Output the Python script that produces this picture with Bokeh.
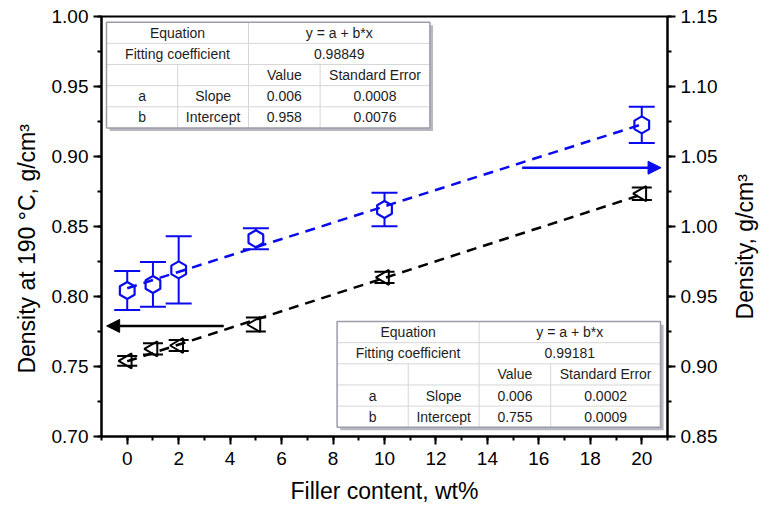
import numpy as np
from bokeh.plotting import figure
from bokeh.layouts import row
from bokeh.models import (ColumnDataSource, Range1d, LinearAxis, SingleIntervalTicker,
                          NumeralTickFormatter, Whisker, TeeHead, Arrow, NormalHead, Label)
from bokeh.core.properties import value
from bokeh.embed import file_html
from bokeh.resources import INLINE

# ---------------- data ----------------
filler = [0, 1, 2, 5, 10, 20]                                   # wt%
density_190 = [0.754, 0.7626, 0.765, 0.780, 0.8136, 0.8734]     # left axis (black)
density_190_err = [0.0035, 0.004, 0.004, 0.005, 0.004, 0.0045]
density_rt = [0.9543, 0.9586, 0.969, 0.9912, 1.0121, 1.0726]    # right axis (blue)
density_rt_err = [0.014, 0.016, 0.024, 0.0075, 0.012, 0.013]

x_title = "Filler content, wt%"
y_left_title = "Density at 190 °C, g/cm³"
y_right_title = "Density, g/cm³"

fit_equation = "y = a + b*x"
param_rows = ["a", "b"]
param_names = ["Slope", "Intercept"]
col_headers = ["Value", "Standard Error"]
fit_rt_coeff = "0.98849"
fit_rt_values = ["0.006", "0.958"]
fit_rt_errors = ["0.0008", "0.0076"]
fit_190_coeff = "0.99181"
fit_190_values = ["0.006", "0.755"]
fit_190_errors = ["0.0002", "0.0009"]

# arrows pointing to the axis each series belongs to
arrow_190 = dict(x_start=3.75, x_end=-0.8, y=0.779)
arrow_rt = dict(x_start=15.35, x_end=20.75, y=1.042)

FONT = "Liberation Sans"
BLUE = "#0a0af0"
BLACK = "#000000"
PAD = "\u00a0" * 7   # shifts the left title slightly downwards, as in the original

MAIN_W, SIDE_W, H = 720, 43, 507

p = figure(width=MAIN_W, height=H, output_backend="svg", toolbar_location=None,
           x_range=Range1d(-1, 21), y_range=Range1d(0.70, 1.00),
           min_border_left=101, min_border_right=52, min_border_top=16, min_border_bottom=71)
p.extra_y_ranges = {"right": Range1d(0.85, 1.15 + 1e-9)}
p.grid.visible = False
p.outline_line_color = "black"
p.outline_line_width = 2
p.background_fill_color = "white"
p.border_fill_color = "white"

right_axis = LinearAxis(y_range_name="right")
p.add_layout(right_axis, "right")

p.xaxis.ticker = SingleIntervalTicker(interval=2, num_minor_ticks=2)
p.yaxis.ticker = SingleIntervalTicker(interval=0.05, num_minor_ticks=2)
for ax in p.yaxis:
    ax.formatter = NumeralTickFormatter(format="0.00")
for ax in p.xaxis + p.yaxis:
    ax.axis_line_width = 2
    ax.major_tick_line_width = 2
    ax.minor_tick_line_width = 2
    ax.major_tick_out = 8
    ax.major_tick_in = 0
    ax.minor_tick_out = 4
    ax.minor_tick_in = 0
    ax.major_label_text_font = FONT
    ax.major_label_text_font_size = "19px"
    ax.major_label_text_color = "black"
    ax.major_label_standoff = 5
    ax.axis_label_text_font = FONT
    ax.axis_label_text_font_size = "23px"
    ax.axis_label_text_font_style = "normal"
    ax.axis_label_text_color = "black"

p.xaxis.major_label_standoff = 7
p.xaxis.axis_label = x_title
p.xaxis.axis_label_standoff = 10

left_axis = p.yaxis[0]
left_axis.axis_label = y_left_title + PAD
left_axis.axis_label_standoff = 9

# ---------------- tables ----------------
COL_W = [2.766, 2.755, 2.782, 4.268]
ROW_H = 0.0151
SHADOW_DX, SHADOW_DY = 0.12, 0.0022


def draw_table(left, top, coeff, values, errors):
    rows = [
        [("Equation", 0, 2), (fit_equation, 2, 4)],
        [("Fitting coefficient", 0, 2), (coeff, 2, 4)],
        [("", 0, 1), ("", 1, 2), (col_headers[0], 2, 3), (col_headers[1], 3, 4)],
        [(param_rows[0], 0, 1), (param_names[0], 1, 2), (values[0], 2, 3), (errors[0], 3, 4)],
        [(param_rows[1], 0, 1), (param_names[1], 1, 2), (values[1], 2, 3), (errors[1], 3, 4)],
    ]
    edges = np.concatenate([[0], np.cumsum(COL_W)]) + left
    right = edges[-1]
    bottom = top - ROW_H * len(rows)
    p.quad(left=[left + SHADOW_DX], right=[right + SHADOW_DX], top=[top - SHADOW_DY],
           bottom=[bottom - SHADOW_DY], fill_color="#b8b8c0", line_color=None)
    p.quad(left=[left], right=[right], top=[top], bottom=[bottom],
           fill_color="white", line_color=None)
    x0, y0, x1, y1 = [], [], [], []
    for i in range(1, len(rows)):
        yy = top - i * ROW_H
        x0.append(left); x1.append(right); y0.append(yy); y1.append(yy)
    tx, ty, tt = [], [], []
    for i, r in enumerate(rows):
        yt, yb = top - i * ROW_H, top - (i + 1) * ROW_H
        for (txt, c0, c1) in r:
            if c0 > 0:
                x0.append(edges[c0]); x1.append(edges[c0]); y0.append(yt); y1.append(yb)
            tx.append((edges[c0] + edges[c1]) / 2)
            ty.append((yt + yb) / 2)
            tt.append(txt)
    p.segment(x0=x0, y0=y0, x1=x1, y1=y1, line_color="#d6d6d6", line_width=1)
    p.quad(left=[left], right=[right], top=[top], bottom=[bottom],
           fill_alpha=0, line_color="#9c9cab", line_width=1.5)
    p.text(x=tx, y=ty, text=tt, text_align="center", text_baseline="middle",
           text_font=value(FONT), text_font_size="14px", text_color="#1e1e1e")


draw_table(-0.806, 0.9959, fit_rt_coeff, fit_rt_values, fit_rt_errors)
draw_table(8.157, 0.7821, fit_190_coeff, fit_190_values, fit_190_errors)

# ---------------- fits ----------------
x_fit = np.array([min(filler), max(filler)], dtype=float)
b190, a190 = np.polyfit(filler, density_190, 1)
brt, art = np.polyfit(filler, density_rt, 1)
p.line(x_fit, a190 + b190 * x_fit, line_color=BLACK, line_width=2.5, line_dash="10 7")
p.line(x_fit, art + brt * x_fit, line_color=BLUE, line_width=2.5, line_dash="10 7",
       y_range_name="right")

# ---------------- error bars ----------------
GAP = 0.0062  # keep bars outside the hexagon
src_rt = ColumnDataSource(dict(
    x=filler, y=density_rt,
    up0=[v + GAP for v in density_rt],
    up1=[v + e for v, e in zip(density_rt, density_rt_err)],
    lo0=[v - GAP for v in density_rt],
    lo1=[v - e for v, e in zip(density_rt, density_rt_err)],
))
for lo, up, head_top in (("up0", "up1", True), ("lo1", "lo0", False)):
    head = TeeHead(size=26, line_color=BLUE, line_width=2)
    w = Whisker(source=src_rt, base="x", lower=lo, upper=up, dimension="height",
                line_color=BLUE, line_width=2, y_range_name="right",
                upper_head=head if head_top else None,
                lower_head=None if head_top else head)
    p.add_layout(w)

src_190 = ColumnDataSource(dict(
    x=filler, y=density_190,
    up=[v + e for v, e in zip(density_190, density_190_err)],
    lo=[v - e for v, e in zip(density_190, density_190_err)],
))
p.add_layout(Whisker(source=src_190, base="x", lower="lo", upper="up", dimension="height",
                     line_color=BLACK, line_width=2, line_alpha=0,
                     upper_head=TeeHead(size=20, line_color=BLACK, line_width=2),
                     lower_head=TeeHead(size=20, line_color=BLACK, line_width=2)))

# ---------------- markers ----------------
p.scatter(filler, density_190, marker="triangle", angle=np.pi / 2, size=15,
          fill_alpha=0, line_color=BLACK, line_width=2)
p.scatter(filler, density_rt, marker="hex", angle=np.pi / 2, size=17,
          fill_alpha=0, line_color=BLUE, line_width=2.2, y_range_name="right")

# ---------------- arrows ----------------
p.add_layout(Arrow(end=NormalHead(size=13, fill_color=BLACK, line_color=BLACK),
                   x_start=arrow_190["x_start"], y_start=arrow_190["y"],
                   x_end=arrow_190["x_end"], y_end=arrow_190["y"],
                   line_color=BLACK, line_width=2.5))
p.add_layout(Arrow(end=NormalHead(size=13, fill_color=BLUE, line_color=BLUE),
                   x_start=arrow_rt["x_start"], y_start=arrow_rt["y"],
                   x_end=arrow_rt["x_end"], y_end=arrow_rt["y"],
                   line_color=BLUE, line_width=2.5, y_range_name="right"))

# ---------------- right-hand title (reads bottom-to-top, as in the original) ----------------
side = figure(width=SIDE_W, height=H, output_backend="svg", toolbar_location=None,
              x_range=Range1d(0, SIDE_W), y_range=Range1d(0, H),
              x_axis_location=None, y_axis_location=None, min_border=0)
side.grid.visible = False
side.outline_line_color = None
side.background_fill_color = "white"
side.border_fill_color = "white"
side.add_layout(Label(x=24, y=H - 278, text=y_right_title, angle=np.pi / 2,
                      text_font=FONT, text_font_size="23px", text_color="black",
                      text_align="center", text_baseline="middle"))

layout = row(p, side, spacing=0)
open("out.html", "w").write(file_html(layout, INLINE))
